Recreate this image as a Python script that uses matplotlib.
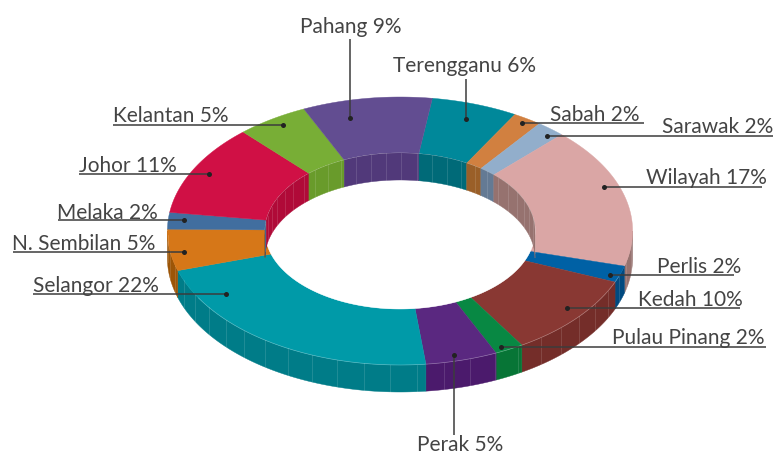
import numpy as np
import matplotlib
matplotlib.use('Agg')
import matplotlib.pyplot as plt
from matplotlib.patches import Polygon

# clockwise, starting at Terengganu
states = ['Terengganu', 'Sabah', 'Sarawak', 'Wilayah', 'Perlis', 'Kedah', 'Pulau Pinang',
          'Perak', 'Selangor', 'N. Sembilan', 'Melaka', 'Johor', 'Kelantan', 'Pahang']
shares = [6, 2, 2, 17, 2, 10, 2, 5, 22, 5, 2, 11, 5, 9]

top_colors = ['#00889a', '#d18040', '#92aecb', '#daa6a5', '#0061a5', '#893833', '#088843',
              '#5a2880', '#009aa8', '#d67718', '#416e9f', '#d01045', '#78ae36', '#624d91']
wall_colors = ['#006a78', '#9a5f28', '#647a94', '#96726f', '#004a80', '#742d29', '#077536',
               '#4b1a6c', '#007c88', '#9c5507', '#2f4f77', '#b00a38', '#699b2b', '#51397a']

# label text pos (left x, baseline y), leader from dot to end
label_pos = {
    'Pahang': (300, 33), 'Terengganu': (393, 72), 'Sabah': (550, 121), 'Sarawak': (662, 133),
    'Wilayah': (646, 184), 'Perlis': (657, 273), 'Kedah': (638, 306), 'Pulau Pinang': (612, 344),
    'Perak': (417, 451.5), 'Selangor': (33, 292), 'N. Sembilan': (12, 250.5), 'Melaka': (57, 219),
    'Johor': (79, 172), 'Kelantan': (113, 122.5),
}
leaders = {
    'Pahang': ((350, 119), (350, 40)), 'Terengganu': ((466, 119.5), (466, 80)),
    'Sabah': ((522, 124), (644, 124)), 'Sarawak': ((547, 136.5), (773, 136.5)),
    'Wilayah': ((604, 187.5), (762, 187.5)), 'Perlis': ((610, 276), (734, 276)),
    'Kedah': ((566.5, 309), (740, 309)), 'Pulau Pinang': ((501, 348), (766, 348)),
    'Perak': ((454, 356), (454, 436)), 'Selangor': ((226, 295), (33, 295)),
    'N. Sembilan': ((184, 253), (13, 253)), 'Melaka': ((184, 221), (58, 221)),
    'Johor': ((209, 175), (79, 175)), 'Kelantan': ((283, 126), (113, 126)),
}

CX, CY = 400, 232
OUT_RX, OUT_RY = 232.6, 134
IN_RX, IN_RY = 135, 78
DEPTH = 27
START = -82


def arc(a0, a1, rx, ry, dy=0):
    t = np.radians(np.linspace(a0, a1, max(int(abs(a1 - a0) * 2), 2)))
    return np.column_stack([CX + rx * np.cos(t), CY + dy + ry * np.sin(t)])


def clipped(a0, a1, lo, hi):
    # parts of a0..a1 that fall in lo..hi, also one turn on either side
    parts = []
    for k in (-360, 0, 360):
        s, e = max(a0 + k, lo), min(a1 + k, hi)
        if e > s:
            parts.append((s, e))
    return parts


def wall(ax, a0, a1, rx, ry, color):
    upper = arc(a0, a1, rx, ry)
    lower = arc(a0, a1, rx, ry, DEPTH)
    ax.add_patch(Polygon(np.vstack([upper, lower[::-1]]), fc=color, ec=color, lw=0.3))


def facets(ax, a0, a1, rx, ry):
    for a in np.arange(np.ceil(a0 / 6.6) * 6.6, a1, 6.6):
        p = arc(a, a, rx, ry)[0]
        ax.plot([p[0], p[0]], [p[1], p[1] + DEPTH], color='white', lw=0.5, alpha=0.18)


fig = plt.figure(figsize=(7.74, 4.56), dpi=100)
ax = fig.add_axes([0, 0, 1, 1])
ax.set_xlim(0, 774)
ax.set_ylim(456, 0)
ax.axis('off')

edges = START + np.cumsum([0] + shares) * 3.6

# outer wall, front half only
for i in range(len(shares)):
    for s, e in clipped(edges[i], edges[i + 1], 0, 180):
        wall(ax, s, e, OUT_RX, OUT_RY, wall_colors[i])
        facets(ax, s, e, OUT_RX, OUT_RY)

# top faces
for i in range(len(shares)):
    pts = np.vstack([arc(edges[i], edges[i + 1], OUT_RX, OUT_RY),
                     arc(edges[i + 1], edges[i], IN_RX, IN_RY)])
    ax.add_patch(Polygon(pts, fc=top_colors[i], ec=top_colors[i], lw=0.3))

# hole, then inner wall on back half
ax.add_patch(Polygon(arc(0, 360, IN_RX, IN_RY), fc='white', ec='white', lw=0.3))
for i in range(len(shares)):
    for s, e in clipped(edges[i], edges[i + 1], 180, 360):
        wall(ax, s, e, IN_RX, IN_RY, wall_colors[i])
        facets(ax, s, e, IN_RX, IN_RY)

# light rim on the front edge
rim = arc(20, 150, OUT_RX, OUT_RY)
ax.plot(rim[:, 0], rim[:, 1], color='white', lw=0.5, alpha=0.3)

for name, share in zip(states, shares):
    (x0, y0), (x1, y1) = leaders[name]
    ax.plot([x0, x1], [y0, y1], color='#3c3c3c', lw=1.1, solid_capstyle='butt')
    ax.plot([x0], [y0], 'o', color='#222222', ms=3.6, mew=0)
    tx, ty = label_pos[name]
    ax.text(tx, ty, f'{name} {share}%', fontsize=15, family='Lato', weight='normal',
            color='#444444', ha='left', va='baseline')

fig.savefig('out.png', dpi=100)
